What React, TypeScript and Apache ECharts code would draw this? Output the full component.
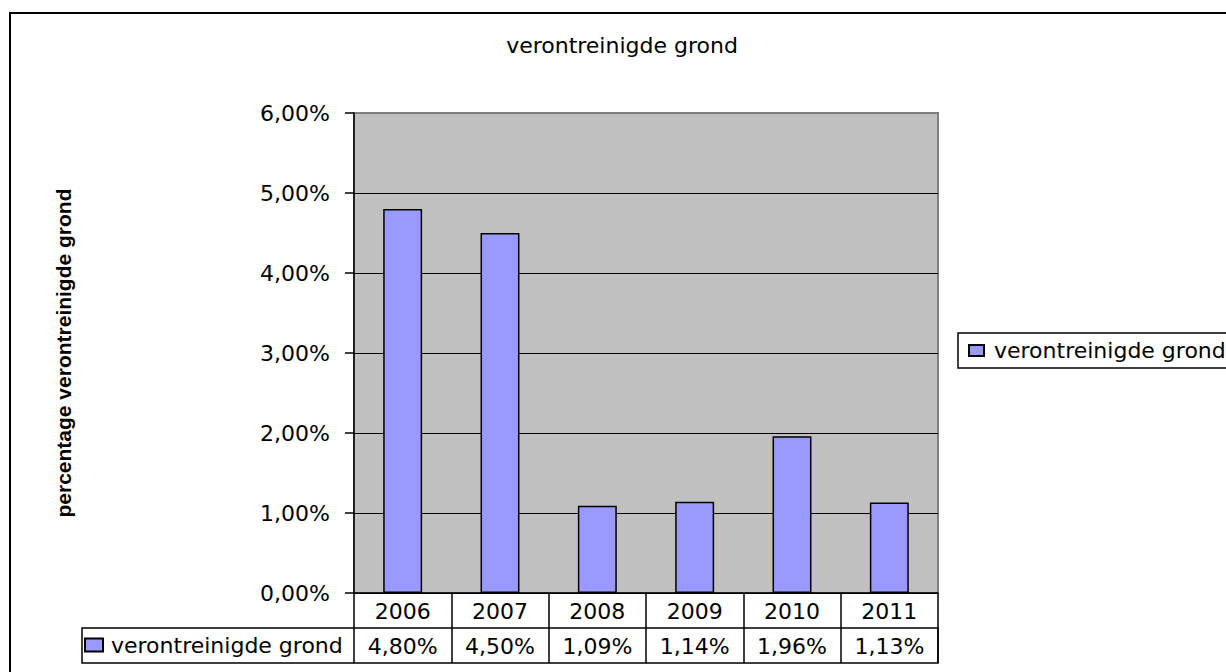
import React, { useEffect, useRef } from "react";
import * as echarts from "echarts";

const categories: string[] = ["2006", "2007", "2008", "2009", "2010", "2011"];
const seriesName = "verontreinigde grond";
const values: number[] = [4.8, 4.5, 1.09, 1.14, 1.96, 1.13];
const chartTitle = "verontreinigde grond";
const yAxisTitle = "percentage verontreinigde grond";
const yMin = 0;
const yMax = 6;
const yInterval = 1;

const fmt = (v: number) => v.toFixed(2).replace(".", ",") + "%";

const FONT = "DejaVu Sans";

export default function App() {
  const ref = useRef<HTMLDivElement>(null);
  useEffect(() => {
    if (!ref.current) return;
    const chart = echarts.init(ref.current, undefined, { renderer: "svg" });
    const gridLeft = 354;
    const gridTop = 113;
    const gridRight = 938;
    const gridBottom = 593;
    chart.setOption({
      animation: false,
      backgroundColor: "#ffffff",
      title: {
        text: chartTitle,
        left: 622,
        top: 33,
        padding: 0,
        textAlign: "center",
        textStyle: { fontFamily: FONT, fontSize: 22, fontWeight: "normal", color: "#000", lineHeight: 24 },
      },
      legend: [
        {
          data: [seriesName],
          left: 958,
          top: 333,
          orient: "vertical",
          padding: [5, 12, 5, 10],
          borderColor: "#000",
          borderWidth: 1.5,
          backgroundColor: "#fff",
          itemWidth: 15,
          itemHeight: 11,
          icon: "rect",
          selectedMode: false,
          textStyle: { fontFamily: FONT, fontSize: 22, color: "#000", lineHeight: 25, padding: [0, 0, 0, 5] },
        },
        {
          data: [seriesName],
          left: 84,
          top: 633,
          orient: "vertical",
          padding: 0,
          itemWidth: 18,
          itemHeight: 13,
          icon: "rect",
          selectedMode: false,
          textStyle: { fontFamily: FONT, fontSize: 22, color: "#000", lineHeight: 24, padding: [0, 0, 0, 3] },
        },
      ],
      grid: {
        left: gridLeft,
        top: gridTop,
        width: gridRight - gridLeft,
        height: gridBottom - gridTop,
        show: true,
        backgroundColor: "#C0C0C0",
        borderColor: "#808080",
        borderWidth: 2,
        containLabel: false,
      },
      xAxis: [
        {
          type: "category",
          data: categories,
          position: "bottom",
          boundaryGap: true,
          axisLine: { show: true, lineStyle: { color: "#000", width: 1.5 } },
          axisTick: { show: true, length: 70, interval: 0, alignWithLabel: false, lineStyle: { color: "#000", width: 1.5 } },
          axisLabel: { show: true, interval: 0, margin: 6, fontFamily: FONT, fontSize: 22, color: "#000", lineHeight: 24 },
          splitLine: { show: false },
        },
        {
          type: "category",
          data: categories,
          position: "bottom",
          offset: 35,
          boundaryGap: true,
          axisLine: { show: false },
          axisTick: { show: false },
          axisLabel: {
            show: true,
            interval: 0,
            margin: 6,
            fontFamily: FONT,
            fontSize: 22,
            color: "#000",
            lineHeight: 24,
            formatter: (_v: string, i: number) => fmt(values[i]),
          },
          splitLine: { show: false },
        },
      ],
      yAxis: {
        type: "value",
        min: yMin,
        max: yMax,
        interval: yInterval,
        name: yAxisTitle,
        nameLocation: "middle",
        nameRotate: 90,
        nameGap: 280,
        nameTextStyle: { fontFamily: "Liberation Sans", fontSize: 21, fontWeight: "bold", color: "#000" },
        axisLine: { show: true, lineStyle: { color: "#000", width: 1.5 } },
        axisTick: { show: true, length: 9, lineStyle: { color: "#000", width: 1.5 } },
        axisLabel: { margin: 24, fontFamily: FONT, fontSize: 22, color: "#000", formatter: (v: number) => fmt(v) },
        splitLine: { show: true, showMaxLine: false, lineStyle: { color: "#000", width: 1.2 } },
      },
      series: [
        {
          type: "bar",
          name: seriesName,
          data: values,
          barWidth: "40%",
          itemStyle: { color: "#9999FF", borderColor: "#000", borderWidth: 1.5 },
        },
      ],
      graphic: [
        {
          type: "rect",
          silent: true,
          shape: { x: 10, y: 13, width: 1400, height: 900 },
          style: { fill: "none", stroke: "#000", lineWidth: 2 },
          z: -10,
        },
        {
          type: "rect",
          silent: true,
          shape: { x: 82, y: 628, width: gridRight - 82, height: 35 },
          style: { fill: "none", stroke: "#000", lineWidth: 1.5 },
          z: 10,
        },
      ],
    });
    return () => chart.dispose();
  }, []);
  return (
    <div
      ref={ref}
      style={{ position: "absolute", left: 0, top: 0, width: 1226, height: 672 }}
    />
  );
}
